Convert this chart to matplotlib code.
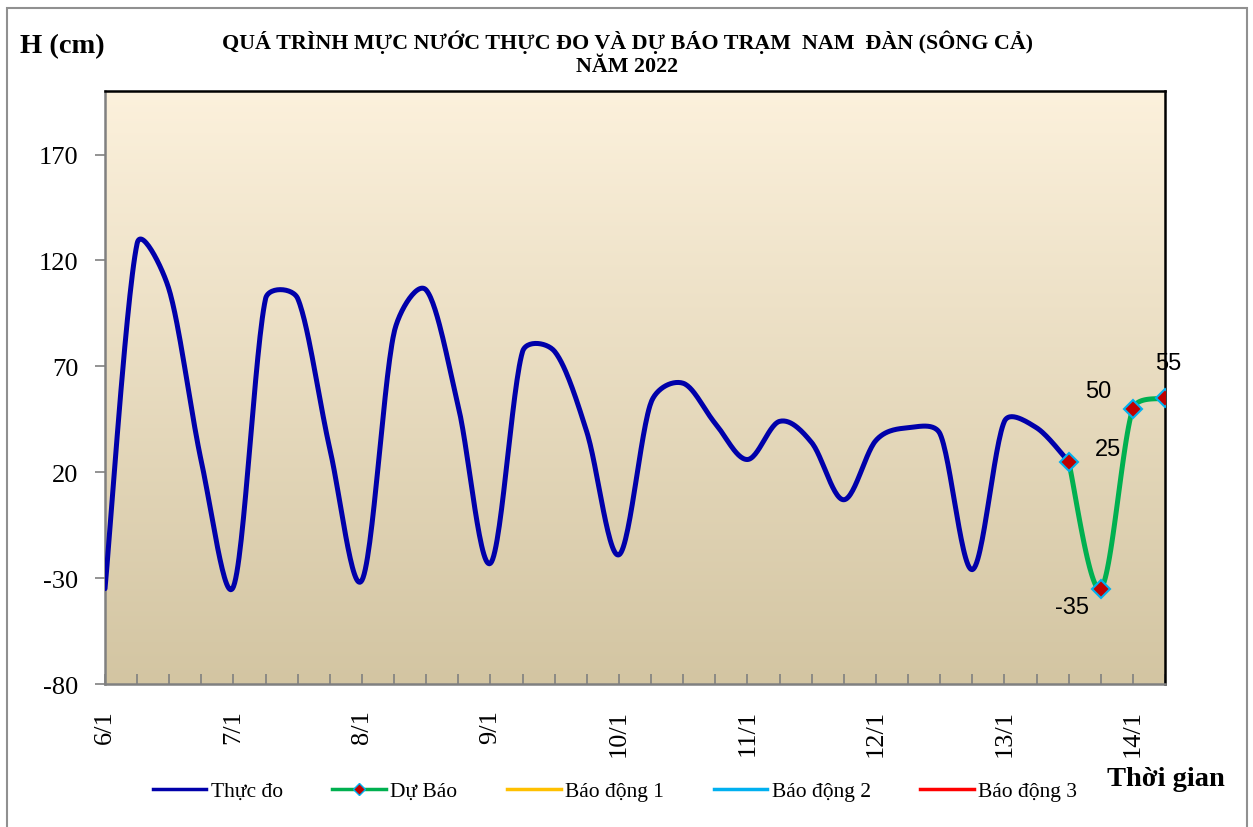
import matplotlib
matplotlib.use('Agg')
import matplotlib.pyplot as plt
import numpy as np
from matplotlib.patches import Rectangle

plt.rcParams['font.family'] = ['Liberation Serif', 'DejaVu Serif']

# muc nuoc thuc do, 6 gio/lan tu 6/1 00h
thuc_do = [-35, 128, 106, 25, -34, 102, 102, 31, -31, 86, 106, 51, -23, 77, 77, 39,
           -19, 53, 62, 43, 26, 44, 34, 7, 35, 41, 38, -26, 44, 41, 25]
# du bao tu 13/1 12h
du_bao = [25, -35, 50, 55]
nhan_ngay = ['6/1', '7/1', '8/1', '9/1', '10/1', '11/1', '12/1', '13/1', '14/1']
y_ticks = [-80, -30, 20, 70, 120, 170]

# ti le pixel de lam tron giong Excel
SX, SY = 32.2, 2.12


def smooth(x, y, n=30):
    p = np.column_stack([np.asarray(x, float)*SX, np.asarray(y, float)*SY])
    p = np.vstack([p[0], p, p[-1]])
    t = np.linspace(0, 1, n)[:, None]
    out = []
    for i in range(1, len(p) - 2):
        p0, p3 = p[i], p[i+1]
        d_prev = np.linalg.norm(p[i] - p[i-1])
        d_cur = np.linalg.norm(p[i+1] - p[i])
        d_next = np.linalg.norm(p[i+2] - p[i+1])
        k1 = min(1.3 * d_cur / (d_prev + d_cur), 0.5) / 3 if d_prev + d_cur > 0 else 0
        k2 = min(1.3 * d_cur / (d_cur + d_next), 0.5) / 3 if d_cur + d_next > 0 else 0
        p1 = p0 + (p[i+1] - p[i-1]) * k1
        p2 = p3 - (p[i+2] - p[i]) * k2
        b = (1-t)**3*p0 + 3*(1-t)**2*t*p1 + 3*(1-t)*t**2*p2 + t**3*p3
        out.append(b)
    out = np.vstack(out)
    return out[:, 0]/SX, out[:, 1]/SY


x_td = np.arange(len(thuc_do))
x_db = np.arange(len(du_bao)) + len(thuc_do) - 1

fig = plt.figure(figsize=(12.53, 8.28), dpi=100)
ax = fig.add_axes([105/1253, 1-685/828, 1060/1253, 593/828])

# nen chuyen mau
grad = np.linspace(0, 1, 256)[:, None]
c_top = np.array([252, 241, 220]) / 255
c_bot = np.array([211, 197, 162]) / 255
img = c_top[None, None, :]*(1-grad[:, :, None]) + c_bot[None, None, :]*grad[:, :, None]
ax.imshow(img, extent=[0, 1, 0, 1], transform=ax.transAxes, aspect='auto', zorder=0)

sx, sy = smooth(x_td, thuc_do)
ax.plot(sx, sy, color='#0000AA', lw=3.6, solid_capstyle='round', zorder=3)
sx, sy = smooth(x_db, du_bao)
ax.plot(sx, sy, color='#00B050', lw=3.6, zorder=3)
ax.plot(x_db, du_bao, 'D', color='#C00000', mec='#00B0F0', mew=1.5, ms=9, ls='none', zorder=4)

# nhan so lieu
offsets = [(28, 9), (-21, -13), (-25, 13), (2, 25)]
for xi, v, off in zip(x_db, du_bao, offsets):
    ax.annotate(str(v), (xi, v), xytext=off, textcoords='offset points',
                ha='center', va='center', fontsize=17, family='Liberation Sans')

ax.set_xlim(0, len(thuc_do) + len(du_bao) - 2)
ax.set_ylim(-80, 200)
ax.set_yticks(y_ticks)
ax.set_yticklabels([str(v) for v in y_ticks], fontsize=19)
ax.set_xticks(np.arange(0, 4*len(nhan_ngay), 4))
ax.set_xticklabels(nhan_ngay, rotation=90, fontsize=19)
ax.set_xticks(np.arange(0, len(thuc_do) + len(du_bao) - 1), minor=True)
ax.tick_params(axis='y', direction='out', length=7, color='#808080', width=1.2, pad=12)
ax.tick_params(axis='x', which='both', direction='in', length=7, color='#808080', width=1.2, pad=18)

for s in ['left', 'bottom']:
    ax.spines[s].set_color('#808080')
    ax.spines[s].set_linewidth(1.8)
for s in ['top', 'right']:
    ax.spines[s].set_color('black')
    ax.spines[s].set_linewidth(1.8)

# chu dich cho bao dong
ax.plot([], [], color='#0000AA', lw=2.5, label='Thực đo')
ax.plot([], [], color='#00B050', lw=2.5, marker='D', mfc='#C00000', mec='#00B0F0', ms=6, label='Dự Báo')
ax.plot([], [], color='#FFC000', lw=2.5, label='Báo động 1')
ax.plot([], [], color='#00B0F0', lw=2.5, label='Báo động 2')
ax.plot([], [], color='#FF0000', lw=2.5, label='Báo động 3')
fig.legend(loc='center', bbox_to_anchor=(615/1253, 1-792/828), ncol=5, frameon=False,
           fontsize=15.5, handlelength=2.5, columnspacing=2.3, handletextpad=0.2)

fig.text(627/1253, 1-42/828, 'QUÁ TRÌNH MỰC NƯỚC THỰC ĐO VÀ DỰ BÁO TRẠM  NAM  ĐÀN (SÔNG CẢ)',
         ha='center', va='center', fontsize=15.8, fontweight='bold')
fig.text(627/1253, 1-67/828, 'NĂM 2022', ha='center', va='center', fontsize=15.8, fontweight='bold')
fig.text(62/1253, 1-47/828, 'H (cm)', ha='center', va='center', fontsize=20.5, fontweight='bold')
fig.text(1166/1253, 1-780/828, 'Thời gian', ha='center', va='center', fontsize=20.5, fontweight='bold')

fig.patches.append(Rectangle((7/1253, -10/828), 1240/1253, 829/828, transform=fig.transFigure,
                             fill=False, edgecolor='#909090', lw=1.5))

fig.savefig('out.png', dpi=100)
